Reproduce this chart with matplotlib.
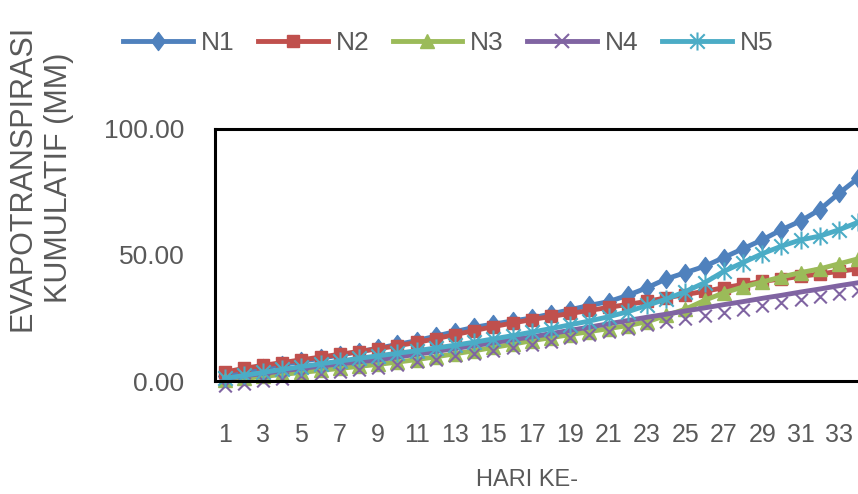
import matplotlib
matplotlib.use('Agg')
import matplotlib.pyplot as plt
from matplotlib.path import Path
from matplotlib.lines import Line2D

# Fonts and colours
plt.rcParams['font.family'] = ['Liberation Sans', 'DejaVu Sans']
text_color = '#595959'

# Data (cumulative evapotranspiration, mm)
days = list(range(1, 36))
n1 = [2.0, 3.5, 5.0, 6.5, 7.8, 9.0, 10.3, 11.6, 13.0, 14.5, 16.0, 17.8, 19.6, 21.3, 22.6,
      23.8, 25.0, 26.6, 28.3, 30.0, 31.5, 34.0, 37.0, 40.5, 43.0, 45.5, 49.0, 52.5, 56.0,
      60.0, 63.5, 68.0, 74.5, 80.5, 86.0]
n2 = [3.5, 5.0, 6.2, 7.3, 8.4, 9.5, 10.6, 11.7, 12.8, 14.0, 15.3, 16.8, 18.4, 20.0, 21.6,
      23.0, 24.4, 25.6, 26.8, 28.0, 29.2, 30.4, 31.6, 33.0, 34.3, 35.6, 37.0, 38.3, 39.5,
      40.5, 41.5, 42.5, 43.5, 44.5, 45.5]
n3 = [0.3, 1.0, 1.8, 2.6, 3.4, 4.2, 5.0, 5.8, 6.6, 7.5, 8.5, 9.6, 10.8, 12.0, 13.3,
      14.6, 16.0, 17.2, 18.4, 19.6, 20.8, 22.0, 23.5, 26.0, 28.5, 32.0, 35.0, 37.3, 39.3,
      41.3, 43.0, 44.5, 46.5, 48.5, 50.0]
n4 = [1.0, 2.0, 3.0, 4.0, 5.0, 5.9, 6.8, 7.6, 8.4, 9.5, 10.6, 11.7, 12.9, 14.0, 15.2,
      16.4, 17.5, 18.8, 20.1, 21.4, 22.7, 24.0, 25.3, 26.5, 27.8, 29.0, 30.3, 31.5, 32.8,
      34.0, 35.3, 36.5, 37.8, 39.0, 40.2]
n5 = [1.0, 2.2, 3.4, 4.6, 5.7, 6.8, 7.9, 9.0, 10.0, 11.0, 12.0, 13.1, 14.2, 15.4, 16.7,
      18.0, 19.4, 20.8, 22.3, 23.8, 25.5, 27.5, 30.0, 32.5, 35.5, 39.0, 43.5, 47.0, 50.5,
      53.5, 56.0, 57.5, 60.0, 63.0, 65.5]
names = ['N1', 'N2', 'N3', 'N4', 'N5']
y_ticks = [0, 50, 100]
x_ticks = list(range(1, 34, 2))

# Excel-like marker shapes
diamond = Path([(0, 1), (0.75, 0), (0, -1), (-0.75, 0), (0, 1)],
               [Path.MOVETO, Path.LINETO, Path.LINETO, Path.LINETO, Path.CLOSEPOLY])
# x marker drawn a little below the point, as in the original picture
low_x = Path([(-0.5, -0.1), (0.5, -1.1), (-0.5, -1.1), (0.5, -0.1)],
             [Path.MOVETO, Path.LINETO, Path.MOVETO, Path.LINETO])
star = Path([(0, -0.5), (0, 0.5), (-0.4, -0.4), (0.4, 0.4), (-0.4, 0.4), (0.4, -0.4)],
            [Path.MOVETO, Path.LINETO, Path.MOVETO, Path.LINETO, Path.MOVETO, Path.LINETO])

styles = [
    dict(color='#4F81BD', marker=diamond, ms=13, mfc='#4F81BD'),
    dict(color='#C0504D', marker='s', ms=8.5, mfc='#C0504D'),
    dict(color='#9BBB59', marker='^', ms=10, mfc='#9BBB59'),
    dict(color='#8064A2', marker=low_x, ms=20, mfc='none', mew=1.5),
    dict(color='#4BACC6', marker=star, ms=13, mfc='none', mew=1.5),
]

fig = plt.figure(figsize=(8.58, 4.94), dpi=100)
# plot area runs past the right edge of the picture
ax = fig.add_axes([215 / 858, 1 - 381 / 494, 768 / 858, 252 / 494])

for name, values, st in zip(names, [n1, n2, n3, n4, n5], styles):
    ax.plot(days, values, label=name, lw=3.5, clip_on=False, **st)

ax.set_xlim(0.5, 40.5)
ax.set_ylim(0, 100)
ax.set_yticks(y_ticks)
ax.set_yticklabels(['%.2f' % v for v in y_ticks])
ax.set_xticks(x_ticks)
ax.set_xticklabels([str(d) for d in x_ticks])
ax.tick_params(length=0, colors=text_color)
ax.tick_params(axis='y', pad=22, labelsize=19)
ax.tick_params(axis='x', pad=30, labelsize=18)
for sp in ax.spines.values():
    sp.set_color('black')
    sp.set_linewidth(2.2)

# Axis titles
fig.text(41 / 858, 1 - 178 / 494, 'EVAPOTRANSPIRASI\nKUMULATIF (MM)', rotation=90,
         ha='center', va='center', multialignment='center', linespacing=1.3,
         fontsize=22, color=text_color)
fig.text(527 / 858, 1 - 480 / 494, 'HARI KE-', ha='center', va='center',
         fontsize=17, color=text_color)

# Legend across the top, plain x marker for N4
handles = []
for name, st in zip(names, styles):
    st = dict(st)
    if name == 'N4':
        st['marker'] = 'x'
        st['ms'] = 10
    handles.append(Line2D([], [], lw=3.5, label=name, **st))
fig.legend(handles=handles, loc='center left', bbox_to_anchor=(123 / 858, 1 - 43 / 494),
           ncol=5, frameon=False, fontsize=19, labelcolor=text_color, borderpad=0,
           borderaxespad=0, handlelength=2.65, handletextpad=0.3, columnspacing=0.88)

fig.savefig('out.png', dpi=100)
